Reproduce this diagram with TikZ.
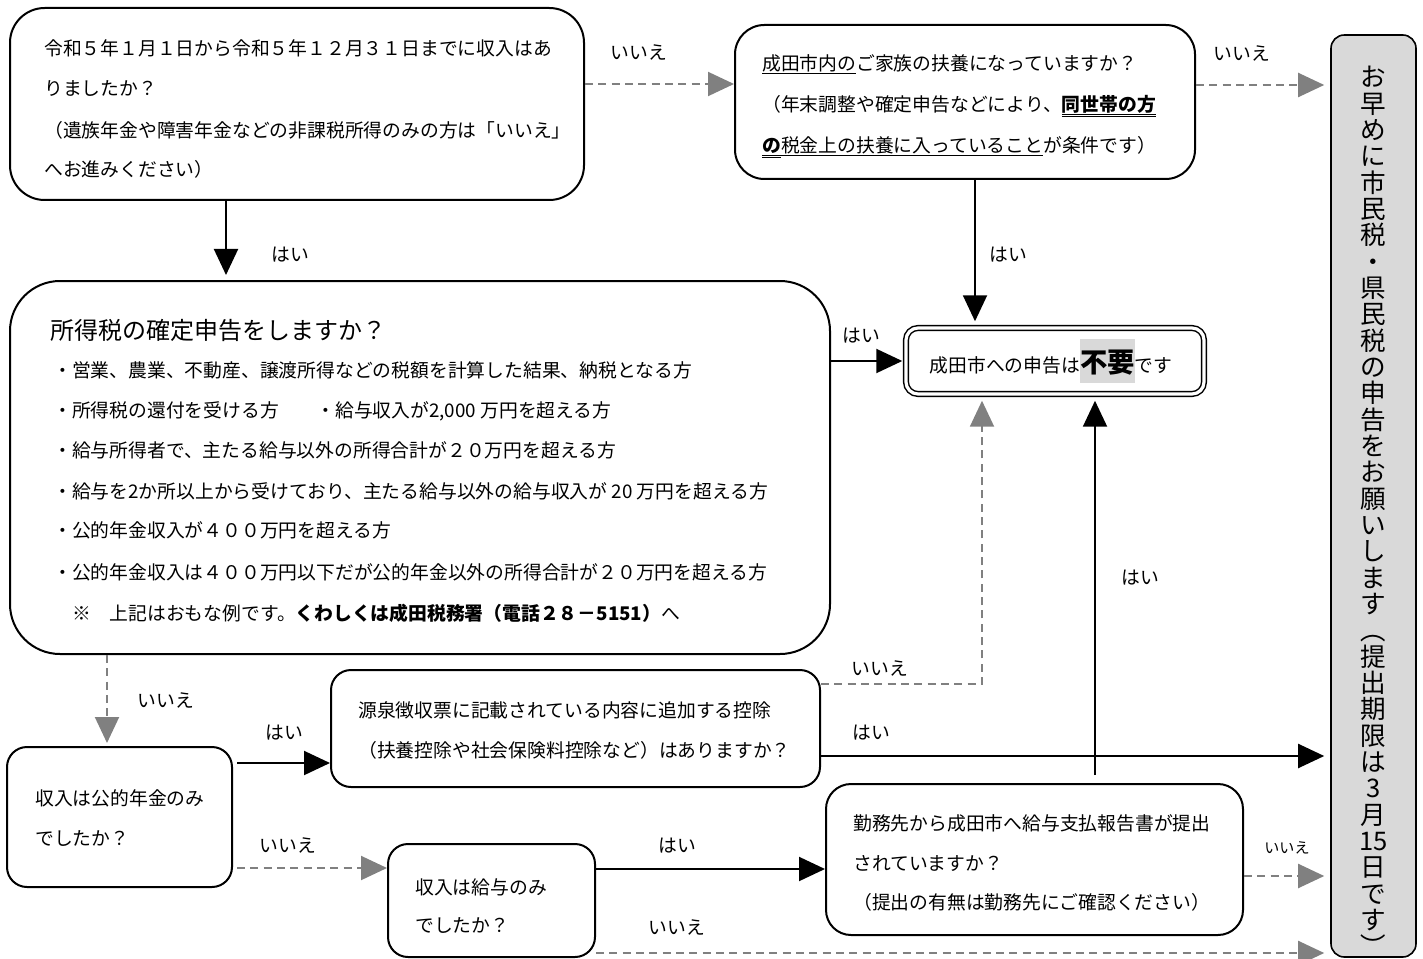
\documentclass[tikz,border=0pt]{standalone}
\usepackage{fontspec}
\setmainfont{Noto Sans CJK JP}
\usetikzlibrary{arrows.meta,calc,fit}
\definecolor{boxgray}{gray}{0.85}
\definecolor{arrgray}{gray}{0.5}
\newcommand\mainsz{\fontsize{14.1pt}{17pt}\selectfont}
\newcommand\titlesz{\fontsize{18pt}{21pt}\selectfont}
\newcommand\smallsz{\fontsize{11.3pt}{13pt}\selectfont}
\newcommand\vsz{\fontsize{19.2pt}{19.75pt}\selectfont}
\newcommand\ulsingle[1]{\setbox0\hbox{#1}\rlap{\rule[-2.4pt]{\wd0}{0.6pt}}\box0}
\newcommand\uldouble[1]{\setbox0\hbox{#1}\rlap{\rule[-2.4pt]{\wd0}{0.7pt}}\rlap{\rule[-3.9pt]{\wd0}{0.6pt}}\box0}
\newcommand\vpo{\rotatebox[origin=c]{-90}{（}}
\newcommand\vpc{\rotatebox[origin=c]{-90}{）}}
\tikzset{
  bx/.style={draw, line width=1.5pt, inner sep=0pt},
  tx/.style={anchor=base west, inner sep=0pt, font=\mainsz},
  lb/.style={anchor=base, inner sep=0pt, font=\mainsz},
  yes/.style={draw, line width=1.5pt, -{Triangle[length=19.5pt,width=18pt]}},
  no/.style={draw=arrgray, line width=1.5pt, dash pattern=on 6pt off 4pt, -{Triangle[length=19.5pt,width=18pt]}},
}
\begin{document}
\begin{tikzpicture}[x=0.75pt,y=-0.75pt]
\useasboundingbox (0,0) rectangle (1423,959);

% boxes
\node[bx, rounded corners=26pt, fit={(10,8) (584,200)}] (A) {};
\node[bx, rounded corners=22pt, fit={(735,25) (1195,179)}] (B) {};
\node[bx, rounded corners=10pt, fill=boxgray, line width=1.2pt, fit={(1331,35) (1416,957)}] (C) {};
\node[draw, line width=1.1pt, double=white, double distance=2.4pt, inner sep=0pt, rounded corners=9pt, fit={(906,328) (1204,394)}] (D) {};
\node[bx, rounded corners=37.5pt, fit={(10,281) (830,654)}] (E) {};
\node[bx, rounded corners=15pt, fit={(7,747) (232,887)}] (F) {};
\node[bx, rounded corners=15pt, fit={(331,670) (820,787)}] (G) {};
\node[bx, rounded corners=15pt, fit={(388,844) (595,957)}] (H) {};
\node[bx, rounded corners=18.75pt, fit={(826,784) (1243,935)}] (I) {};

% box A text
\node[tx] (a1) at (44,56) {令和５年１月１日から令和５年１２月３１日までに収入はあ};
\node[tx] (a2) at (44,96) {りましたか？};
\node[tx] (a3) at (44,138) {（遺族年金や障害年金などの非課税所得のみの方は「いいえ」};
\node[tx] (a4) at (44,177) {へお進みください）};

% box B text
\node[tx] (b1) at (762,71) {\ulsingle{成田市内の}ご家族の扶養になっていますか？};
\node[tx] (b2) at (762,112) {（年末調整や確定申告などにより、\uldouble{\bfseries 同世帯の方}};
\node[tx] (b3) at (762,153) {\uldouble{\bfseries の}\ulsingle{税金上の扶養に入っていること}が条件です）};

% box C vertical text (one character per line)
\node[inner sep=0pt, font=\vsz, align=center, anchor=north] (vt) at (1373.5,66) {お\\早\\め\\に\\市\\民\\税\\・\\県\\民\\税\\の\\申\\告\\を\\お\\願\\い\\し\\ま\\す\\\vpo\\提\\出\\期\\限\\は\\3\\月\\15\\日\\で\\す\\\vpc};

% box D text
\node[anchor=base, inner sep=0pt, font=\mainsz] (d1) at (1051,372) {成田市への申告は{\setlength\fboxsep{0pt}\colorbox{boxgray}{\rule[-8.6pt]{0pt}{33pt}\bfseries\fontsize{20.5pt}{22pt}\selectfont 不要}}です};

% box E text
\node[tx, font=\titlesz] (e0) at (50,339) {所得税の確定申告をしますか？};
\node[tx] (e1) at (53,377) {・営業、農業、不動産、譲渡所得などの税額を計算した結果、納税となる方};
\node[tx] (e2) at (53,417) {・所得税の還付を受ける方　　・給与収入が2,000 万円を超える方};
\node[tx] (e3) at (53,457) {・給与所得者で、主たる給与以外の所得合計が２０万円を超える方};
\node[tx] (e4) at (53,498) {・給与を2か所以上から受けており、主たる給与以外の給与収入が 20 万円を超える方};
\node[tx] (e5) at (53,537) {・公的年金収入が４００万円を超える方};
\node[tx] (e6) at (53,579) {・公的年金収入は４００万円以下だが公的年金以外の所得合計が２０万円を超える方};
\node[tx] (e7) at (53,620) {　※　上記はおもな例です。{\bfseries くわしくは成田税務署（電話２８－5151）}へ};

% box F, G, H, I text
\node[tx] (f1) at (35,805) {収入は公的年金のみ};
\node[tx] (f2) at (35,845) {でしたか？};
\node[tx] (g1) at (358,717) {源泉徴収票に記載されている内容に追加する控除};
\node[tx] (g2) at (358,757) {（扶養控除や社会保険料控除など）はありますか？};
\node[tx] (h1) at (415,894) {収入は給与のみ};
\node[tx] (h2) at (415,932) {でしたか？};
\node[tx] (i1) at (853,830) {勤務先から成田市へ給与支払報告書が提出};
\node[tx] (i2) at (853,870) {されていますか？};
\node[tx] (i3) at (853,909) {（提出の有無は勤務先にご確認ください）};

% connectors
\draw[no] ($(A.east)+(0,-20)$) -- ($(B.west)+(0,-18)$);
\draw[no, shorten >=4.5pt] ($(B.east)+(0,-17)$) -- ($(C.west)+(0,-411)$);
\draw[yes, shorten >=3.75pt] ($(A.south)+(-71,0)$) -- ($(E.north)+(-194,0)$);
\draw[yes, shorten >=4.5pt] ($(B.south)+(10,0)$) -- ($(D.north)+(-80,0)$);
\draw[yes, shorten >=2.25pt] ($(E.east)+(0,-106.5)$) -- (D.west);
\draw[no, shorten >=2.25pt] ($(E.south)+(-313,0)$) -- ($(F.north)+(-12.5,0)$);
\draw[yes, shorten <=3pt] ($(F.east)+(0,-54)$) -- ($(G.west)+(0,34.5)$);
\draw[no, shorten <=3pt] ($(F.east)+(0,51)$) -- ($(H.west)+(0,-32.5)$);
\draw[no, shorten >=4.5pt] ($(G.east)+(0,-44.5)$) -| ($(D.south)+(-73,0)$);
\draw[yes, shorten >=4.5pt] ($(G.east)+(0,27.5)$) -- ($(C.west)+(0,260)$);
\draw[yes] ($(H.east)+(0,-31.5)$) -- ($(I.west)+(0,9.5)$);
\draw[no, shorten >=4.5pt] ($(H.east)+(0,52.5)$) -- ($(C.west)+(0,457)$);
\draw[yes, shorten >=4.5pt] ($(I.north)+(60.5,-8)$) -- ($(D.south)+(40,0)$);
\draw[no, shorten >=4.5pt] ($(I.east)+(0,16.5)$) -- ($(C.west)+(0,380)$);

% labels
\node[lb] (l1) at (639,60) {いいえ};
\node[lb] (l2) at (1242,61) {いいえ};
\node[lb] (l3) at (290,262) {はい};
\node[lb] (l4) at (1008,262) {はい};
\node[lb] (l5) at (861,342) {はい};
\node[lb] (l6) at (880,675) {いいえ};
\node[lb] (l7) at (1140,584) {はい};
\node[lb] (l8) at (166,707) {いいえ};
\node[lb] (l9) at (284,739) {はい};
\node[lb] (l10) at (871,739) {はい};
\node[lb] (l11) at (288,852) {いいえ};
\node[lb] (l12) at (677,852) {はい};
\node[lb] (l13) at (677,934) {いいえ};
\node[lb, font=\smallsz] (l14) at (1287,853) {いいえ};
\end{tikzpicture}
\end{document}
